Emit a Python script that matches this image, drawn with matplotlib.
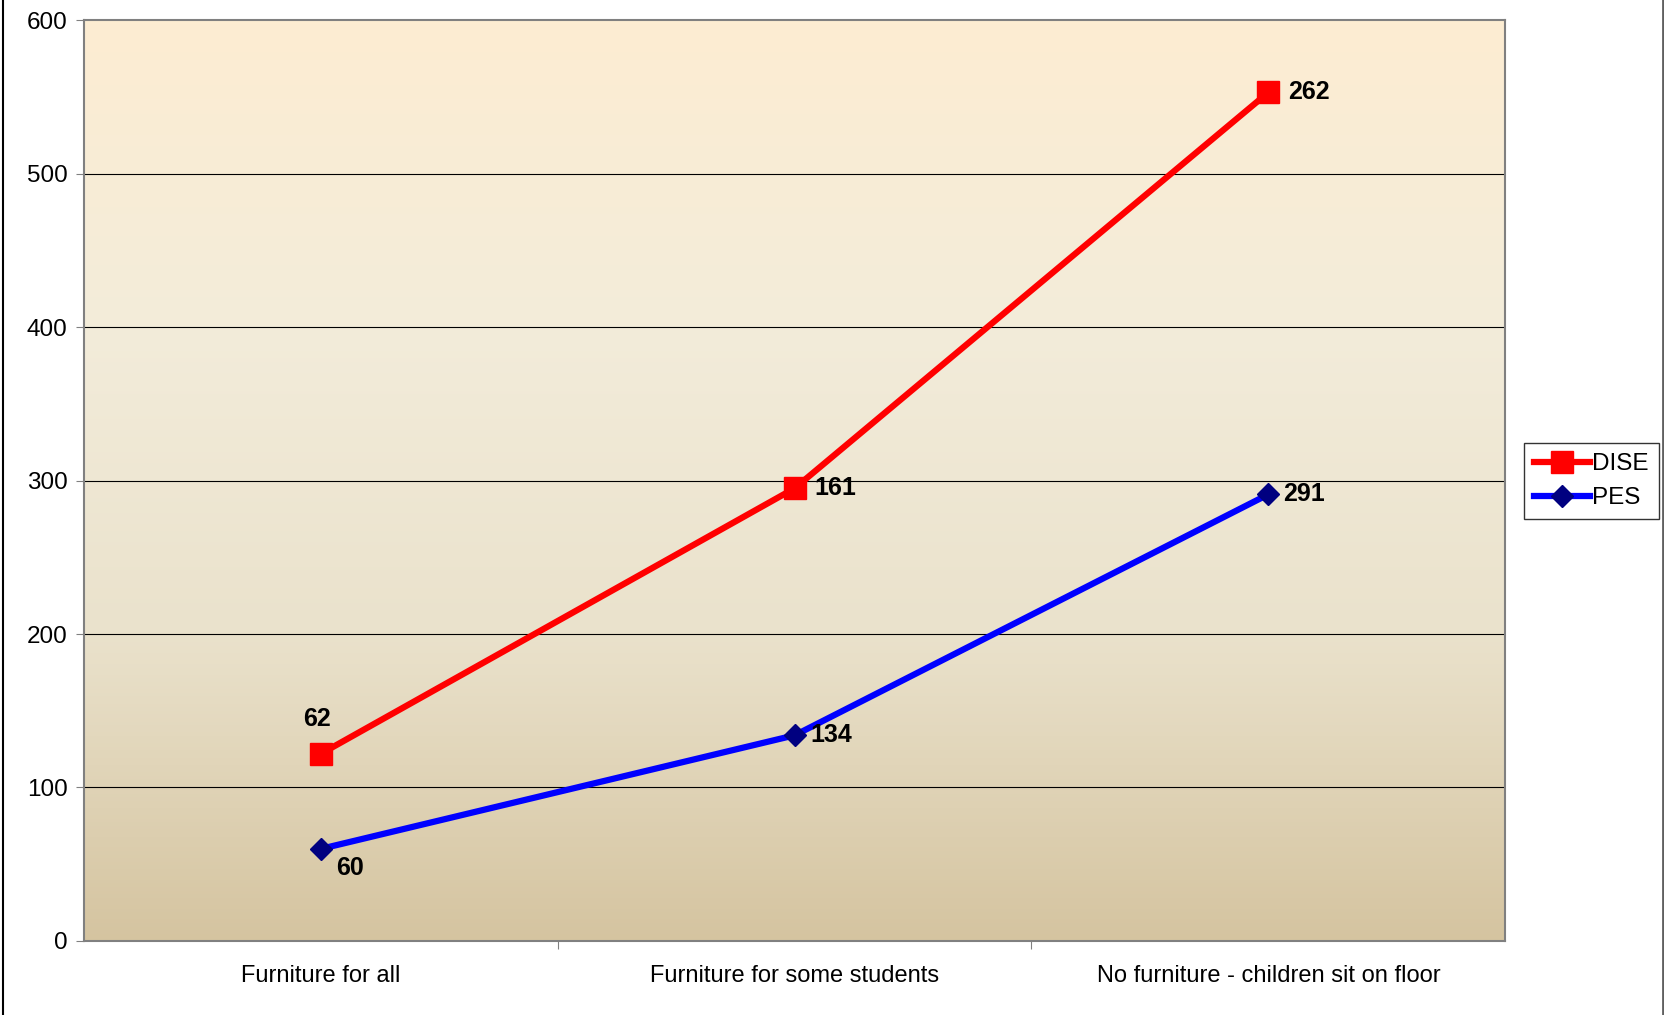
import numpy as np
import matplotlib
matplotlib.use("Agg")
import matplotlib.pyplot as plt
from matplotlib.colors import LinearSegmentedColormap
from matplotlib.lines import Line2D

categories = ["Furniture for all", "Furniture for some students", "No furniture - children sit on floor"]
pes = [60, 134, 291]
dise = [62, 161, 262]

plt.rcParams['font.family'] = ['Liberation Sans', 'DejaVu Sans']

fig = plt.figure(figsize=(16.65, 10.15), dpi=100)
ax = fig.add_axes([0.0505, 0.073, 0.8535, 0.907])

x = np.arange(len(categories))
stacked = np.array(pes) + np.array(dise)

# gradient background
cmap = LinearSegmentedColormap.from_list("bg", ["#D5C4A0", "#EAE2CC", "#F3ECDA", "#FDEDD2"])
grad = np.linspace(0, 1, 256).reshape(-1, 1)
ax.imshow(grad, aspect='auto', cmap=cmap, origin='lower',
          extent=[-0.5, 2.5, 0, 600], zorder=0)

for y in range(100, 600, 100):
    ax.axhline(y, color='black', lw=0.8, zorder=1)

ax.plot(x, stacked, color='#FF0000', lw=4.5, marker='s', markersize=16,
        markerfacecolor='#FF0000', markeredgecolor='#FF0000', label='DISE', zorder=3)
ax.plot(x, pes, color='#0000FF', lw=4.5, marker='D', markersize=11,
        markerfacecolor='#000080', markeredgecolor='#000080', label='PES', zorder=3)

# value labels
fs = 18
ax.annotate(str(dise[0]), (x[0], stacked[0]), xytext=(-3, 25), textcoords='offset points',
            ha='center', va='center', fontsize=fs, fontweight='bold')
for i in (1, 2):
    ax.annotate(str(dise[i]), (x[i], stacked[i]), xytext=(14, 0), textcoords='offset points',
                ha='left', va='center', fontsize=fs, fontweight='bold')
ax.annotate(str(pes[0]), (x[0], pes[0]), xytext=(11, -14), textcoords='offset points',
            ha='left', va='center', fontsize=fs, fontweight='bold')
for i in (1, 2):
    ax.annotate(str(pes[i]), (x[i], pes[i]), xytext=(11, 0), textcoords='offset points',
                ha='left', va='center', fontsize=fs, fontweight='bold')

ax.set_xlim(-0.5, 2.5)
ax.set_ylim(0, 600)
ax.set_yticks(range(0, 700, 100))
ax.set_xticks([0.5, 1.5], minor=False)
ax.set_xticks(x, minor=True)
ax.set_xticklabels([], minor=False)
ax.set_xticklabels(categories, minor=True, fontsize=17)
ax.tick_params(axis='x', which='major', length=6, direction='out', color='#808080')
ax.tick_params(axis='x', which='minor', length=0, pad=17)
ax.tick_params(axis='y', length=6, direction='out', labelsize=17.5, color='#808080', pad=6)

for s in ax.spines.values():
    s.set_color('#808080')
    s.set_linewidth(1.5)

leg = fig.legend(loc='center left', bbox_to_anchor=(0.9155, 0.526), fontsize=17.5,
                 frameon=True, fancybox=False, edgecolor='black', handlelength=2.3,
                 handletextpad=0.1, borderpad=0.4, labelspacing=0.5, borderaxespad=0)
leg.get_frame().set_linewidth(1.0)

fig.lines.append(Line2D([0.002, 0.002], [0, 1], transform=fig.transFigure, color='black', lw=1.5))
fig.lines.append(Line2D([0.9988, 0.9988], [0, 1], transform=fig.transFigure, color='#606060', lw=2))

fig.savefig("out.png", dpi=100)
